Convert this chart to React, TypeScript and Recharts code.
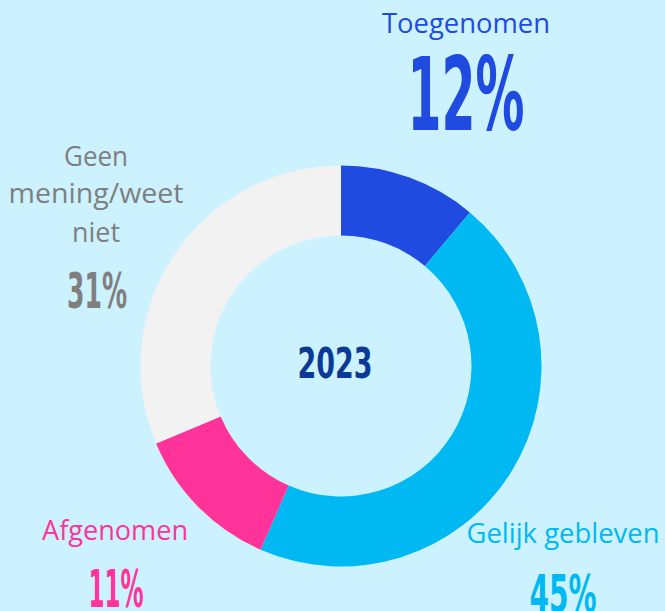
import * as React from "react";
import { PieChart, Pie, Cell } from "recharts";

// slice sizes as drawn (the printed labels round differently)
const categories = ["Toegenomen", "Gelijk gebleven", "Afgenomen", "Geen mening/weet niet"];
const sliceValues = [11, 45, 12, 31];
const percentLabels = ["12%", "45%", "11%", "31%"];
const sliceColors = ["#1F4BE0", "#00B9F2", "#FF3399", "#F2F2F2"];
const yearLabel = "2023";

const BG = "#CCF2FF";
const W = 665;
const H = 611;

const data = categories.map((name, i) => ({ name, value: sliceValues[i] }));

const LABEL_FONT = "'Open Sans', 'Liberation Sans', sans-serif";
const NUM_FONT = "'Liberation Sans Narrow', 'DejaVu Sans Condensed', 'Liberation Sans', sans-serif";

function Num({ x, y, size, len, color, children }: any) {
  return (
    <text
      x={x}
      y={y}
      textAnchor="middle"
      fontFamily={NUM_FONT}
      fontWeight="bold"
      fontSize={size}
      fill={color}
      textLength={len}
      lengthAdjust="spacingAndGlyphs"
    >
      {children}
    </text>
  );
}

function Label({ x, y, len, color, children }: any) {
  return (
    <text
      x={x}
      y={y}
      textAnchor="middle"
      fontFamily={LABEL_FONT}
      fontSize={27}
      fill={color}
      textLength={len}
      lengthAdjust="spacingAndGlyphs"
    >
      {children}
    </text>
  );
}

export default function App() {
  return (
    <div style={{ position: "absolute", left: 0, top: 0, width: W, height: H, background: BG }}>
      <PieChart width={W} height={H} margin={{ top: 0, right: 0, bottom: 0, left: 0 }}>
        <Pie
          data={data}
          dataKey="value"
          nameKey="name"
          cx={341}
          cy={366}
          innerRadius={130.5}
          outerRadius={200.5}
          startAngle={90}
          endAngle={-270}
          stroke="none"
          isAnimationActive={false}
        >
          {data.map((d, i) => (
            <Cell key={d.name} fill={sliceColors[i]} />
          ))}
        </Pie>
      </PieChart>
      <svg width={W} height={H} style={{ position: "absolute", left: 0, top: 0, pointerEvents: "none" }}>
        <Label x={466} y={33} len={168} color={sliceColors[0]}>{categories[0]}</Label>
        <Num x={466} y={130} size={102} len={117} color={sliceColors[0]}>{percentLabels[0]}</Num>

        <Label x={96} y={166} len={64} color="#7F7F7F">Geen</Label>
        <Label x={96} y={203} len={175} color="#7F7F7F">mening/weet</Label>
        <Label x={96} y={242} len={48} color="#7F7F7F">niet</Label>
        <Num x={97} y={308} size={50} len={60} color="#7F7F7F">{percentLabels[3]}</Num>

        <Label x={115} y={540} len={146} color={sliceColors[2]}>{categories[2]}</Label>
        <Num x={116} y={607} size={52} len={55} color={sliceColors[2]}>{percentLabels[2]}</Num>

        <Label x={563} y={543} len={193} color={sliceColors[1]}>{categories[1]}</Label>
        <Num x={563} y={612} size={52} len={67} color={sliceColors[1]}>{percentLabels[1]}</Num>

        <Num x={335} y={378} size={42} len={75} color="#0B3A96">{yearLabel}</Num>
      </svg>
    </div>
  );
}
